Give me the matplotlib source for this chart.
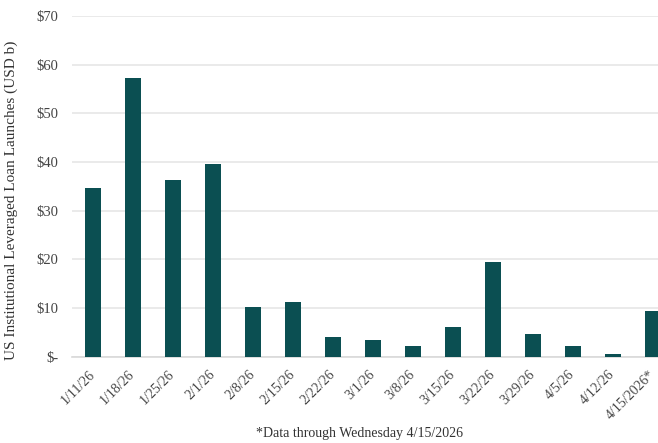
import matplotlib
matplotlib.use("Agg")
import matplotlib.pyplot as plt
from matplotlib.transforms import ScaledTranslation

weeks = ["1/11/26", "1/18/26", "1/25/26", "2/1/26", "2/8/26", "2/15/26", "2/22/26",
         "3/1/26", "3/8/26", "3/15/26", "3/22/26", "3/29/26", "4/5/26", "4/12/26",
         "4/15/2026*"]
launches = [34.6, 57.3, 36.4, 39.5, 10.3, 11.3, 4.0, 3.4, 2.3, 6.0, 19.4, 4.6, 2.1, 0.6, 9.4]
y_ticks = [0, 10, 20, 30, 40, 50, 60, 70]
y_tick_labels = ["$-", "$10", "$20", "$30", "$40", "$50", "$60", "$70"]

plt.rcParams["font.family"] = ["Liberation Serif", "DejaVu Serif"]

fig = plt.figure(figsize=(6.58, 4.43), dpi=100)
ax = fig.add_axes([72 / 658, 1 - 356.7 / 443, 1 - 72 / 658, (356.7 - 16) / 443])

x = list(range(len(weeks)))
ax.bar(x, launches, width=0.4, color="#0b4f52", zorder=3)

ax.set_ylim(0, 70)
ax.set_xlim(-0.525, 14.125)
ax.set_yticks(y_ticks)
ax.set_yticklabels(y_tick_labels, fontsize=10.5, color="#444444")
ax.set_xticks(x)
ax.set_xticklabels(weeks, rotation=45, ha="right", rotation_mode="anchor",
                   fontsize=10, color="#444444")
ax.tick_params(axis="both", length=0)
ax.tick_params(axis="y", pad=10)
ax.tick_params(axis="x", pad=8)

# nudge the rotated date labels a few pixels left so they sit under the bars
shift = ScaledTranslation(-5 / 100, 0, fig.dpi_scale_trans)
for lbl in ax.get_xticklabels():
    lbl.set_transform(lbl.get_transform() + shift)

ax.grid(axis="y", color="#e6e6e6", linewidth=1.2, zorder=0)
for side in ["top", "right", "left"]:
    ax.spines[side].set_visible(False)
ax.spines["bottom"].set_color("#d9d9d9")
ax.spines["bottom"].set_linewidth(1.2)

ax.set_ylabel("US Institutional Leveraged Loan Launches (USD b)", fontsize=11,
              color="#333333")
ax.yaxis.set_label_coords(-54 / 586, 0.46)

fig.text(360 / 658, 1 - 434 / 443, "*Data through Wednesday 4/15/2026",
         ha="center", va="center", fontsize=10, color="#333333")

fig.savefig("out.png", dpi=100)
